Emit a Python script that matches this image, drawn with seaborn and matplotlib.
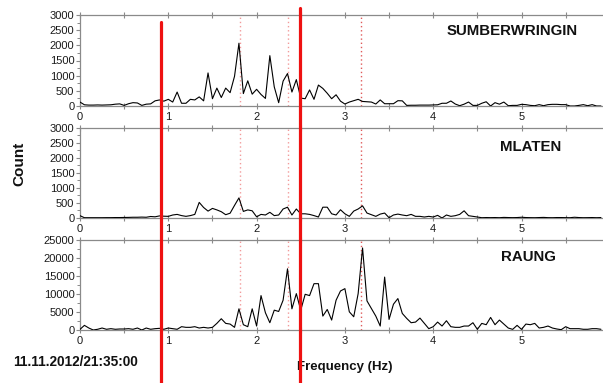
import numpy as np
import pandas as pd
import matplotlib
matplotlib.use("Agg")
import matplotlib.pyplot as plt
from matplotlib.lines import Line2D
from matplotlib.ticker import MultipleLocator
import seaborn as sns

step_hz = 0.05

sumberwringin = [
    130, 40, 30, 30, 35, 30, 35, 40, 60, 70, 20, 75, 110, 100, 20, 60, 70, 170, 200, 160,
    220, 130, 460, 90, 90, 220, 200, 300, 170, 1090, 240, 590, 280, 590, 440, 980, 2070, 410, 830, 390,
    550, 380, 250, 1660, 630, 110, 820, 1070, 460, 870, 260, 240, 530, 220, 690, 580, 420, 240, 370, 160,
    65, 130, 175, 220, 150, 140, 130, 65, 200, 75, 75, 75, 175, 170, 20, 25, 25, 30, 30, 30,
    35, 40, 90, 90, 165, 65, 10, 60, 130, 20, 20, 90, 140, 0, 110, 60, 130, 10, 20, 20,
    55, 45, 20, 10, 45, 10, 45, 55, 55, 45, 45, 0, 0, 20, 45, 10, 45, 0, 0,
]

mlaten = [
    77, 10, 10, 10, 10, 10, 12, 12, 15, 15, 18, 20, 25, 25, 30, 25, 50, 40, 70, 60,
    55, 100, 120, 80, 55, 80, 120, 520, 350, 230, 320, 270, 210, 110, 160, 420, 670, 220, 270, 240,
    40, 120, 100, 190, 80, 100, 300, 360, 100, 300, 140, 140, 120, 80, 33, 360, 360, 140, 100, 275,
    140, 55, 230, 300, 405, 165, 110, 55, 130, 165, 10, 100, 130, 100, 77, 120, 55, 55, 33, 55,
    33, 88, 0, 100, 55, 77, 120, 240, 77, 55, 33, 10, 15, 12, 15, 10, 20, 15, 12, 15,
    25, 15, 12, 10, 15, 20, 12, 10, 15, 15, 12, 10, 25, 15, 10, 12, 15, 10, 15,
]

raung = [
    180, 1290, 550, 0, 200, 550, 200, 370, 200, 280, 280, 370, 200, 550, 0, 550, 200, 370, 460, 200,
    550, 370, 200, 920, 740, 740, 920, 550, 740, 550, 740, 1840, 3130, 1840, 1650, 740, 5880, 1470, 920, 5880,
    1100, 9560, 4780, 2020, 5510, 5150, 8270, 17000, 5880, 10100, 5510, 9920, 9560, 12870, 12870, 3860, 5700, 2760, 8270, 10840,
    11490, 5050, 3680, 10100, 22790, 8090, 5970, 3860, 1100, 14700, 2940, 7170, 8730, 4600, 3220, 2020, 2200, 3310, 1840, 370,
    920, 2200, 1100, 2570, 920, 740, 740, 1100, 1100, 2020, 180, 1840, 1470, 3490, 1470, 2760, 1650, 550, 180, 1290,
    180, 1650, 1470, 1840, 550, 740, 1100, 550, 280, 90, 920, 370, 370, 370, 200, 200, 370, 370, 200,
]

stations = ["SUMBERWRINGIN", "MLATEN", "RAUNG"]
series = [sumberwringin, mlaten, raung]
y_max = [3000, 3000, 25000]
y_major = [500, 500, 5000]
marker_hz = [1.81, 2.36, 3.18]
marker_colors = ["#f29a9a", "#f29a9a", "#e05a5a"]
x_tick_labels = ["0", "1", "2", "3", "4", "5"]
date_label = "11.11.2012/21:35:00"

frames = []
for name, vals in zip(stations, series):
    frames.append(pd.DataFrame({"station": name,
                                "freq": np.arange(len(vals)) * step_hz,
                                "count": vals}))
df = pd.concat(frames, ignore_index=True)

sns.set_theme(style="white")
plt.rcParams["font.family"] = ["Liberation Sans", "DejaVu Sans"]

W, H = 603, 383
fig = plt.figure(figsize=(W / 100, H / 100), dpi=100)

panel_px = [(15, 106), (128, 218), (240, 330)]
x0_px, x1_px = 80, 603
gray = "#8a8a8a"

for i, name in enumerate(stations):
    top, bot = panel_px[i]
    ax = fig.add_axes([x0_px / W, 1 - bot / H, (x1_px - x0_px) / W, (bot - top) / H])
    sub = df[df.station == name]
    for hz, c in zip(marker_hz, marker_colors):
        ax.axvline(hz, color=c, lw=1.0, ls=(0, (1, 2)), zorder=1)
    sns.lineplot(data=sub, x="freq", y="count", ax=ax, color="black", lw=0.8, zorder=3)
    ax.set_xlim(0, (x1_px - x0_px) / 88.3)
    ax.set_ylim(0, y_max[i])
    ax.yaxis.set_major_locator(MultipleLocator(y_major[i]))
    ax.yaxis.set_minor_locator(MultipleLocator(y_major[i] / 2))
    xt = np.arange(0, 6, 0.5)
    ax.set_xticks(xt)
    ax.set_xticklabels([x_tick_labels[int(t)] if t == int(t) else "" for t in xt])
    ax.set_xlabel("")
    ax.set_ylabel("")
    for s in ["left", "top", "bottom"]:
        ax.spines[s].set_color(gray)
        ax.spines[s].set_linewidth(0.9)
    ax.spines["right"].set_visible(False)
    ax.tick_params(axis="x", which="both", top=True, bottom=True, direction="inout",
                   length=4, width=0.8, color=gray, labelsize=8, pad=2, labelcolor="#1a1a1a")
    ax.tick_params(axis="y", which="major", left=True, direction="out", length=3,
                   width=0.8, color=gray, labelsize=8, pad=1, labelcolor="#1a1a1a")
    ax.tick_params(axis="y", which="minor", left=True, direction="out", length=2,
                   width=0.7, color=gray)
    ax.patch.set_alpha(0)

station_pos = [(512, 31), (531, 147), (528, 257)]
for name, (px, py) in zip(stations, station_pos):
    fig.text(px / W, 1 - py / H, name, ha="center", va="center",
             fontsize=10.8, fontweight="bold", color="#111111")

fig.text(19 / W, 1 - 164 / H, "Count", rotation=90, ha="center", va="center",
         fontsize=11, fontweight="bold", color="#111111")
fig.text(345 / W, 1 - 367 / H, "Frequency (Hz)", ha="center", va="center",
         fontsize=9.5, fontweight="bold", color="#111111")
fig.text(75 / W, 1 - 362 / H, date_label, ha="center", va="center",
         fontsize=9.8, fontweight="bold", color="#111111")

fig.add_artist(Line2D([161 / W, 161 / W], [1 - 22 / H, 0], transform=fig.transFigure,
                      color="#ee1111", lw=2.3, zorder=10))
fig.add_artist(Line2D([300 / W, 300 / W], [1 - 8 / H, 0], transform=fig.transFigure,
                      color="#ee1111", lw=2.3, zorder=10))

fig.savefig("out.png", dpi=100)
